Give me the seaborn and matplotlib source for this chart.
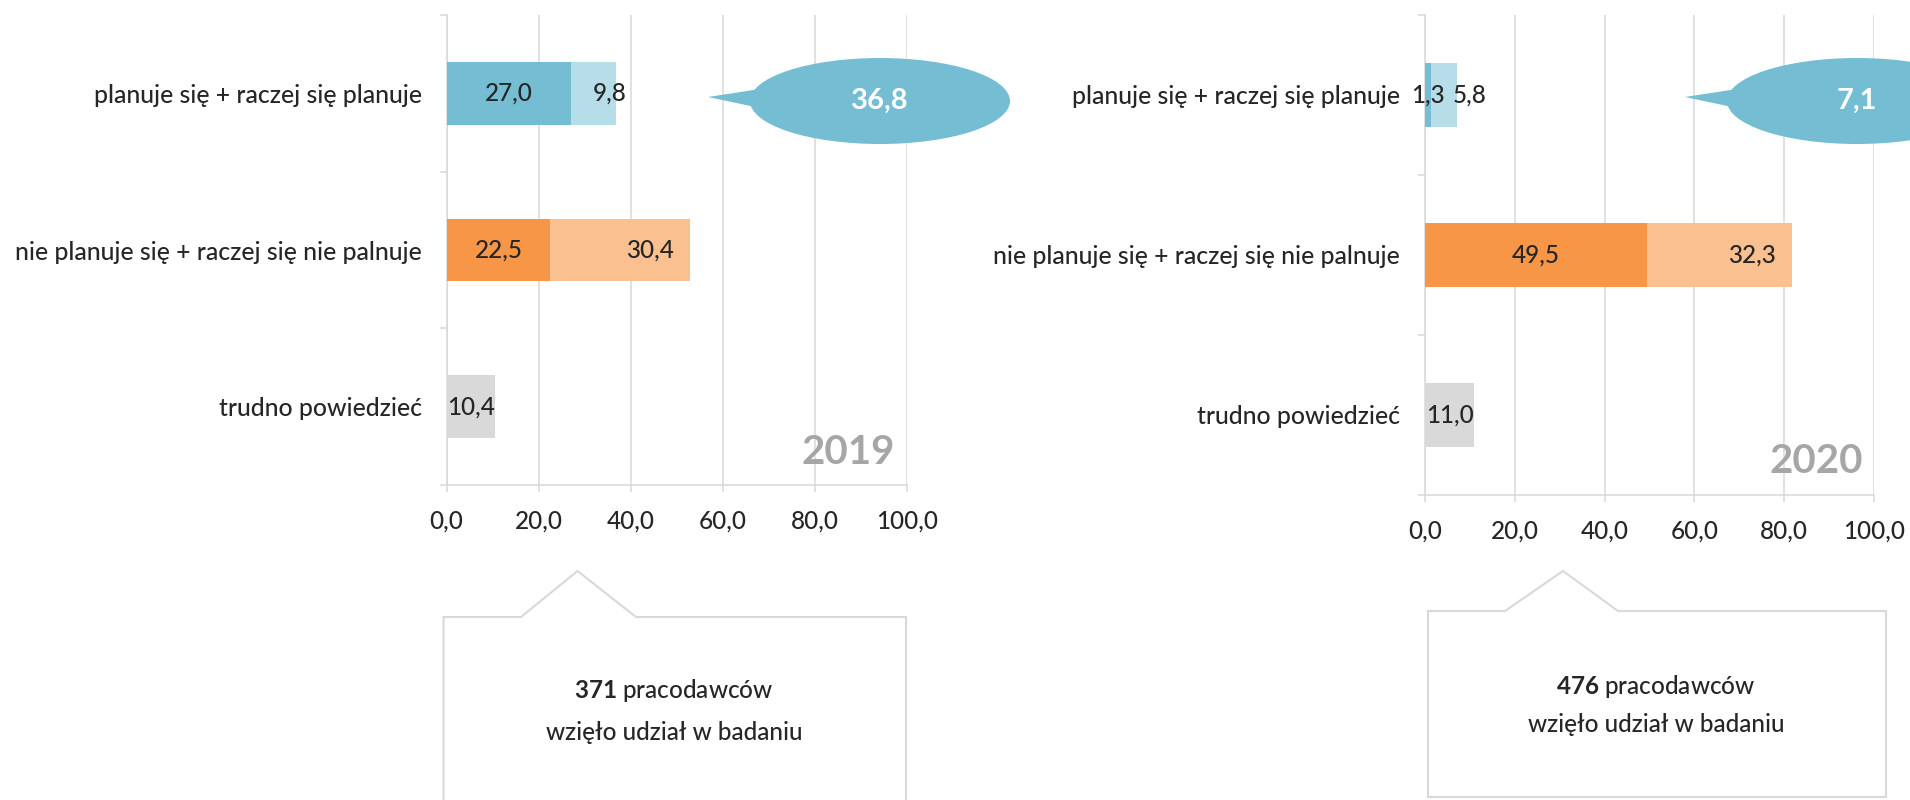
"""Employer plans chart: 2019 vs 2020 stacked bars with callouts"""

import matplotlib
matplotlib.use('Agg')
import matplotlib.pyplot as plt
import seaborn as sns
from matplotlib.patches import Ellipse, Polygon
from matplotlib.ticker import FixedLocator


# ----------------------------- DATA ---------------------------------
categories = ['planuje się + raczej się planuje',
              'nie planuje się + raczej się nie palnuje',
              'trudno powiedzieć']

strong_2019 = [27.0, 22.5, 10.4]
weak_2019 = [9.8, 30.4, 0.0]
strong_2020 = [1.3, 49.5, 11.0]
weak_2020 = [5.8, 32.3, 0.0]

years = ['2019', '2020']
respondents = [371, 476]
x_ticks = [0, 20, 40, 60, 80, 100]

# ----------------------------- STYLE --------------------------------
DARK = ['#74bdd3', '#f79646', '#d9d9d9']
LIGHT = ['#b7dde8', '#fac090', '#d9d9d9']
GRID = '#d9d9d9'
YEAR_COLOR = '#a6a6a6'

sns.set_style('white')
plt.rcParams['font.family'] = ['Lato', 'DejaVu Sans']
plt.rcParams['font.weight'] = 'medium'
plt.rcParams['mathtext.fontset'] = 'custom'
plt.rcParams['mathtext.rm'] = 'Lato:medium'
plt.rcParams['mathtext.bf'] = 'Lato:bold'

NUM_SIZE = 17.5
CAT_SIZE = 17.8


def fmt(v):
    return f'{v:.1f}'.replace('.', ',')


def draw_panel(ax, strong, weak, year):
    total = [s + w for s, w in zip(strong, weak)]

    # stacked look: full bar in light colour, strong part drawn on top
    sns.barplot(x=total, y=categories, hue=categories, palette=LIGHT, orient='h',
                width=0.4, saturation=1, linewidth=0, legend=False, ax=ax, zorder=3)
    sns.barplot(x=strong, y=categories, hue=categories, palette=DARK, orient='h',
                width=0.4, saturation=1, linewidth=0, legend=False, ax=ax, zorder=4)

    ax.set_xlim(0, 100)
    ax.set_ylim(2.5, -0.5)
    ax.set_xlabel('')
    ax.set_ylabel('')

    ax.set_xticks(x_ticks)
    ax.set_xticklabels([fmt(t) for t in x_ticks])
    ax.xaxis.grid(True, color=GRID, lw=1.1)
    ax.set_axisbelow(True)

    ax.tick_params(axis='x', bottom=True, length=5, width=1.1, color=GRID,
                   pad=13, labelsize=NUM_SIZE)
    ax.tick_params(axis='y', which='major', left=True, length=0, pad=18,
                   labelsize=CAT_SIZE)
    ax.yaxis.set_minor_locator(FixedLocator([-0.5, 0.5, 1.5, 2.5]))
    ax.tick_params(axis='y', which='minor', left=True, length=5, width=1.1, color=GRID)

    sns.despine(ax=ax)
    for side in ['left', 'bottom']:
        ax.spines[side].set_color(GRID)
        ax.spines[side].set_linewidth(1.1)

    # value labels
    for i, (s, w) in enumerate(zip(strong, weak)):
        ax.text(s / 2, i, fmt(s), ha='center', va='center', fontsize=NUM_SIZE, zorder=6)
        if w > 0:
            if w >= 15:
                ax.annotate(fmt(w), (s + w, i), xytext=(-12, 0), textcoords='offset points',
                            ha='right', va='center', fontsize=NUM_SIZE, zorder=6)
            else:
                ax.annotate(fmt(w), (s, i), xytext=(15.5, 0), textcoords='offset points',
                            ha='left', va='center', fontsize=NUM_SIZE, zorder=6)

    ax.text(0.872, 0.069, year, transform=ax.transAxes, ha='center', va='center',
            fontsize=29, fontweight='bold', color=YEAR_COLOR)


def callout(ov, cx, cy, value):
    ov.add_patch(Ellipse((cx, cy), 260, 86, facecolor=DARK[0], lw=0))
    ov.add_patch(Polygon([(cx - 172, cy - 4), (cx - 120, cy - 12), (cx - 120, cy + 7)],
                         closed=True, facecolor=DARK[0], lw=0))
    ov.text(cx, cy, fmt(value), color='white', fontsize=21, fontweight='bold',
            ha='center', va='center')


def info_box(ov, pts, n, cx, cy1, cy2, closed):
    ov.add_patch(Polygon(pts, closed=closed, facecolor='white', edgecolor=GRID, lw=1.5))
    ov.text(cx, cy1, r'$\mathbf{' + str(n) + '}$ pracodawców', ha='center', va='center',
            fontsize=17.5)
    ov.text(cx, cy2, 'wzięło udział w badaniu', ha='center', va='center', fontsize=17.5)


# ----------------------------- FIGURE -------------------------------
fig = plt.figure(figsize=(19.1, 8.0), dpi=100)

ax1 = fig.add_axes([446.6 / 1910, 315 / 800, 460.8 / 1910, 470 / 800])
ax2 = fig.add_axes([1425 / 1910, 305 / 800, 449 / 1910, 480.5 / 800])

draw_panel(ax1, strong_2019, weak_2019, years[0])
draw_panel(ax2, strong_2020, weak_2020, years[1])

# overlay in pixel coordinates for the callouts and boxes
ov = fig.add_axes([0, 0, 1, 1], zorder=10)
ov.set_xlim(0, 1910)
ov.set_ylim(800, 0)
ov.axis('off')
ov.patch.set_alpha(0)

callout(ov, 880, 101, strong_2019[0] + weak_2019[0])
callout(ov, 1857, 101, strong_2020[0] + weak_2020[0])

info_box(ov, [(443.6, 805), (443.6, 617), (521, 617), (577.5, 571), (636, 617),
              (906, 617), (906, 805)], respondents[0], 674, 690, 732, closed=False)
info_box(ov, [(1428, 797), (1428, 611), (1505, 611), (1563, 571), (1618, 611),
              (1886, 611), (1886, 797)], respondents[1], 1656, 687, 725, closed=True)

plt.savefig('out.png', dpi=100)
